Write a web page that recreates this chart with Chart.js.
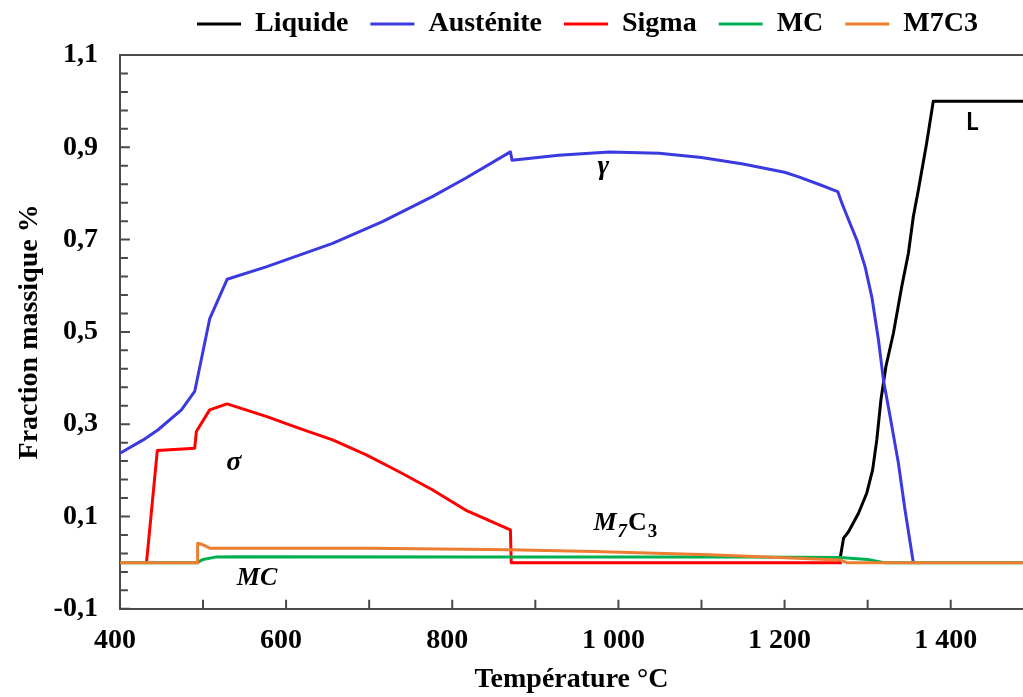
<!DOCTYPE html>
<html lang="fr">
<head>
<meta charset="UTF-8">
<title>Fraction massique des phases</title>
<script src="https://cdn.jsdelivr.net/npm/chart.js@4"></script>
<style>
    body {
        margin: 0;
        background: #fff;
        overflow: hidden;
    }
    .chart-box {
        position: relative;
        width: 1023px;
        height: 697px;
    }
</style>
</head>
<body>
<div class="chart-box"><canvas id="phaseChart"></canvas></div>
<script>
// values: temperature (°C) and mass fraction
const liquideT = [1266, 1271, 1277, 1289, 1299, 1306, 1311, 1316, 1322, 1331, 1341, 1349, 1355, 1361, 1371, 1379, 1500];
const liquideV = [0, 0.053, 0.067, 0.107, 0.151, 0.201, 0.266, 0.353, 0.425, 0.497, 0.598, 0.670, 0.750, 0.807, 0.909, 1.0, 1.0];

const austeniteT = [400, 428, 446, 474, 490, 508, 529, 576, 656, 716, 776, 816, 870, 872, 928, 989, 1049, 1100, 1150, 1200, 1217, 1241, 1264, 1269, 1273, 1287, 1297, 1305, 1313, 1319, 1327, 1337, 1345, 1355];
const austeniteV = [0.237, 0.266, 0.288, 0.331, 0.371, 0.528, 0.614, 0.641, 0.692, 0.739, 0.793, 0.833, 0.890, 0.872, 0.883, 0.890, 0.887, 0.878, 0.864, 0.846, 0.836, 0.820, 0.804, 0.779, 0.761, 0.699, 0.641, 0.576, 0.483, 0.396, 0.317, 0.216, 0.114, 0];

const sigmaT = [432, 445, 490, 492, 508, 529, 576, 616, 656, 696, 736, 776, 816, 870, 871, 1269];
const sigmaV = [0, 0.243, 0.248, 0.284, 0.331, 0.344, 0.317, 0.291, 0.266, 0.234, 0.197, 0.158, 0.114, 0.071, 0, 0];

const mcT = [400, 493, 500, 515, 540, 870, 1150, 1267, 1300, 1320, 1500];
const mcV = [0, 0, 0.007, 0.012, 0.013, 0.012, 0.012, 0.011, 0.007, 0, 0];

const m7c3T = [400, 493, 493.5, 498, 509, 700, 870, 970, 1110, 1267, 1275, 1500];
const m7c3V = [0, 0, 0.042, 0.040, 0.031, 0.031, 0.028, 0.024, 0.017, 0.006, 0, 0];

const xTicks = [400, 500, 600, 700, 800, 900, 1000, 1100, 1200, 1300, 1400];
const xTickLabels = [400, 600, 800, 1000, 1200, 1400];
const yTickLabels = [-0.1, 0.1, 0.3, 0.5, 0.7, 0.9, 1.1];

const serif = "'Liberation Serif', 'Times New Roman', serif";
const axisColor = '#4a4a4a';

function toPoints(ts, vs) {
    return ts.map((t, i) => ({ x: t, y: vs[i] }));
}

function isYLabel(v) {
    return yTickLabels.some(l => Math.abs(l - v) < 1e-6);
}

// inside tick marks + top frame line
const frameTicks = {
    id: 'frameTicks',
    beforeDatasetsDraw(chart) {
        const { ctx, chartArea: a, scales: { x, y } } = chart;
        ctx.save();
        ctx.strokeStyle = axisColor;
        ctx.lineWidth = 2;
        ctx.beginPath();
        ctx.moveTo(a.left, a.top);
        ctx.lineTo(a.right, a.top);
        x.ticks.forEach(t => {
            const px = x.getPixelForValue(t.value);
            ctx.moveTo(px, a.bottom);
            ctx.lineTo(px, a.bottom - 9);
        });
        y.ticks.forEach(t => {
            const py = y.getPixelForValue(t.value);
            ctx.moveTo(a.left, py);
            ctx.lineTo(a.left + (isYLabel(t.value) ? 10 : 8), py);
        });
        ctx.stroke();
        ctx.restore();
    }
};

// legend sits higher and further right than Chart.js puts it
const legendPlace = {
    id: 'legendPlace',
    beforeInit(chart) {
        const fit = chart.legend.fit;
        chart.legend.fit = function () {
            fit.call(this);
            this.height = 55;
        };
    },
    afterLayout(chart) {
        const l = chart.legend;
        l.left += 76;
        l.right += 76;
        l.top -= 12;
        l.bottom -= 12;
    }
};

// phase names written on the plot
const phaseLabels = {
    id: 'phaseLabels',
    afterDatasetsDraw(chart) {
        const { ctx, scales: { x, y } } = chart;
        const at = (t, v) => [x.getPixelForValue(t), y.getPixelForValue(v)];
        ctx.save();
        ctx.fillStyle = '#000';
        ctx.textBaseline = 'alphabetic';
        ctx.textAlign = 'center';
        ctx.font = 'italic bold 28px ' + serif;
        let [px, py] = at(982, 0.842);
        ctx.fillText('γ', px, py);
        [px, py] = at(537, 0.201);
        ctx.fillText('σ', px, py);
        ctx.font = 'italic bold 26px ' + serif;
        [px, py] = at(565, -0.048);
        ctx.fillText('MC', px, py);

        ctx.textAlign = 'left';
        [px, py] = at(970, 0.071);
        const parts = [['M', 'italic bold 26px ', 0], ['7', 'italic bold 19px ', 7], ['C', 'bold 26px ', 0], ['3', 'bold 19px ', 7]];
        parts.forEach(([s, f, dy]) => {
            ctx.font = f + serif;
            ctx.fillText(s, px, py + dy);
            px += ctx.measureText(s).width + 1;
        });

        ctx.textAlign = 'center';
        ctx.font = 'bold 24px Lato, sans-serif';
        [px, py] = at(1426, 0.937);
        ctx.fillText('L', px, py);
        ctx.restore();
    }
};

const ctx = document.getElementById('phaseChart').getContext('2d');
new Chart(ctx, {
    type: 'line',
    data: {
        datasets: [
            { label: 'Liquide', data: toPoints(liquideT, liquideV), borderColor: '#000000', backgroundColor: '#000000', order: 4 },
            { label: 'Austénite', data: toPoints(austeniteT, austeniteV), borderColor: '#3A3AE0', backgroundColor: '#3A3AE0', order: 3 },
            { label: 'Sigma', data: toPoints(sigmaT, sigmaV), borderColor: '#FF0000', backgroundColor: '#FF0000', order: 2 },
            { label: 'MC', data: toPoints(mcT, mcV), borderColor: '#00B050', backgroundColor: '#00B050', order: 1 },
            { label: 'M7C3', data: toPoints(m7c3T, m7c3V), borderColor: '#ED7D31', backgroundColor: '#ED7D31', order: 0 },
        ],
    },
    options: {
        responsive: true,
        maintainAspectRatio: false,
        animation: false,
        elements: {
            line: { borderWidth: 3, tension: 0, borderJoinStyle: 'round' },
            point: { radius: 0, borderWidth: 3 },
        },
        layout: { padding: 0 },
        font: { family: serif, weight: 'bold' },
        plugins: {
            tooltip: { enabled: false },
            legend: {
                position: 'top',
                labels: {
                    color: '#000',
                    font: { family: serif, size: 28, weight: 'bold' },
                    usePointStyle: true,
                    pointStyle: 'line',
                    pointStyleWidth: 44,
                    padding: 22,
                    sort: (a, b) => a.datasetIndex - b.datasetIndex,
                },
            },
        },
        scales: {
            x: {
                type: 'linear',
                min: 400,
                max: 1487,
                afterBuildTicks: (scale) => {
                    scale.ticks = xTicks.map(v => ({ value: v }));
                },
                ticks: {
                    autoSkip: false,
                    maxRotation: 0,
                    padding: 15,
                    labelOffset: -5,
                    color: '#000',
                    font: { family: serif, size: 28, weight: 'bold' },
                    callback: (v) => xTickLabels.includes(v) ? String(v).replace(/\B(?=(\d{3})+(?!\d))/g, ' ') : '',
                },
                grid: { display: true, drawOnChartArea: false, drawTicks: false },
                border: { display: true, color: axisColor, width: 2 },
                title: {
                    display: true,
                    text: 'Température °C',
                    color: '#000',
                    font: { family: serif, size: 28, weight: 'bold' },
                    padding: { top: -9, bottom: 0 },
                },
            },
            y: {
                min: -0.1,
                max: 1.1,
                ticks: {
                    stepSize: 0.04,
                    autoSkip: false,
                    padding: 22,
                    color: '#000',
                    font: { family: serif, size: 28, weight: 'bold' },
                    callback: (v) => isYLabel(v) ? v.toFixed(1).replace('.', ',') : '',
                },
                grid: { display: true, drawOnChartArea: false, drawTicks: false },
                border: { display: true, color: axisColor, width: 2 },
                title: {
                    display: true,
                    text: 'Fraction massique %',
                    color: '#000',
                    font: { family: serif, size: 28, weight: 'bold' },
                    padding: { top: 13, bottom: -15 },
                },
            },
        },
    },
    plugins: [frameTicks, legendPlace, phaseLabels],
});
</script>
</body>
</html>
